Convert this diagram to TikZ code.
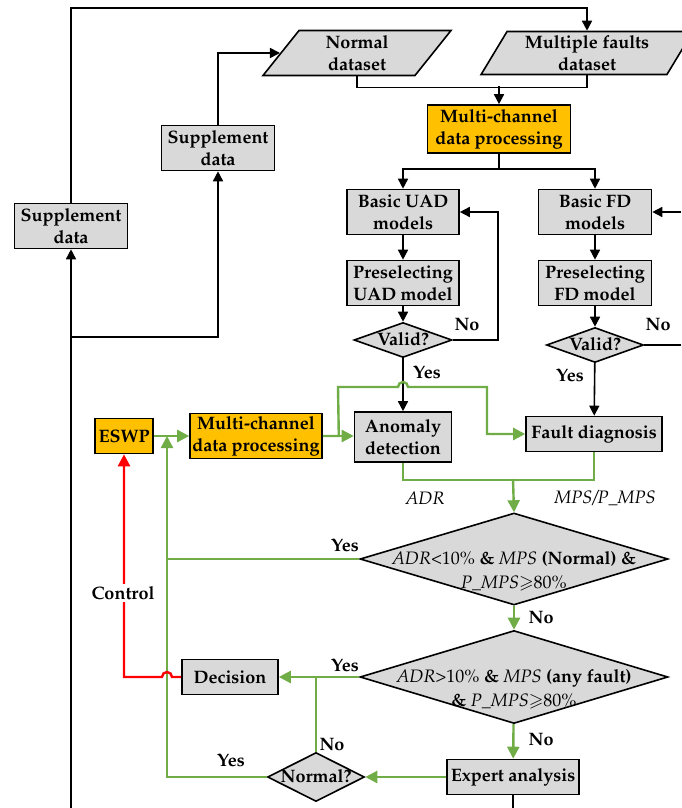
\documentclass[tikz,border=0pt]{standalone}
\usepackage[T1]{fontenc}
\usepackage{mathpazo}
\usepackage{amssymb}
\usetikzlibrary{arrows.meta,positioning,shapes.geometric}

\definecolor{boxgray}{RGB}{217,217,217}
\definecolor{procorange}{RGB}{255,192,0}
\definecolor{flowgreen}{RGB}{112,173,71}
\definecolor{ctrlred}{RGB}{255,0,0}

\newcommand{\condtext}[1]{\smash{\raisebox{-0.6ex}{\renewcommand{\arraystretch}{1.1}\begin{tabular}[t]{@{}c@{}}#1\end{tabular}}}}
\newcommand{\var}[1]{{\mdseries\itshape #1}}

\begin{document}
\begin{tikzpicture}[
    x=0.5pt, y=-0.5pt,
    box/.style={draw, line width=0.8pt, fill=boxgray, align=center, inner sep=1pt, font=\fontsize{9}{11}\selectfont\bfseries},
    proc/.style={box, fill=procorange},
    data/.style={trapezium, trapezium stretches=true, trapezium left angle=62, trapezium right angle=118, draw, line width=0.8pt, fill=boxgray, align=center, inner sep=1pt, font=\fontsize{9}{11}\selectfont\bfseries},
    cond/.style={diamond, draw, line width=0.8pt, fill=boxgray, inner sep=0pt, font=\fontsize{9}{11}\selectfont\bfseries},
    lbl/.style={font=\fontsize{9}{11}\selectfont\bfseries, inner sep=1pt},
    note/.style={font=\fontsize{9}{11}\selectfont\itshape, inner sep=1pt},
    wire/.style={line width=0.8pt},
    link/.style={wire, -{Triangle[length=5pt, width=5pt]}},
    gwire/.style={flowgreen, line width=1.2pt},
    glink/.style={gwire, -{Triangle[length=6pt, width=6pt]}},
    rlink/.style={ctrlred, line width=1.2pt, -{Triangle[length=6pt, width=6pt]}}
]
\useasboundingbox (0,0) rectangle (681,808);

\node[box, minimum width=56.5pt, minimum height=22.5pt] (sup1) at (71,226) {Supplement\\data};
\node[box, minimum width=56.5pt, minimum height=22.5pt] (sup2) at (218,148) {Supplement\\data};
\node[data, minimum width=94pt, minimum height=22.5pt] (normal) at (357,53) {Normal\\dataset};
\node[data, minimum width=106.5pt, minimum height=21.5pt] (multi) at (587,53) {Multiple faults\\dataset};
\node[proc, minimum width=71.5pt, minimum height=24pt] (mcp1) at (499,129) {Multi-channel\\data processing};
\node[box, minimum width=56pt, minimum height=22.5pt] (uadb) at (403,212) {Basic UAD\\models};
\node[box, minimum width=56.5pt, minimum height=22.5pt] (fdb) at (595,212) {Basic FD\\models};
\node[box, minimum width=56pt, minimum height=22.5pt] (uadp) at (403,283) {Preselecting\\UAD model};
\node[box, minimum width=56.5pt, minimum height=22.5pt] (fdp) at (595,283) {Preselecting\\FD model};
\node[cond, aspect=2.8, minimum width=49pt, minimum height=17.5pt] (uadv) at (403,340) {\condtext{Valid?}};
\node[cond, aspect=2.8, minimum width=48.5pt, minimum height=17.5pt] (fdv) at (595,345) {\condtext{Valid?}};
\node[box, minimum width=48.5pt, minimum height=25pt] (anom) at (403,437) {Anomaly\\detection};
\node[box, minimum width=68pt, minimum height=17.5pt] (fdiag) at (594,434) {Fault diagnosis};
\node[proc, minimum width=29pt, minimum height=17.5pt] (eswp) at (124,436) {ESWP};
\node[proc, minimum width=66pt, minimum height=22.5pt] (mcp2) at (256,436) {Multi-channel\\data processing};
\node[cond, aspect=3.35, minimum width=154pt, minimum height=46pt] (chk1) at (514,559)
  {\condtext{\var{ADR}{\mdseries<10\%} \& \var{MPS} (Normal) \&\\\var{P\_MPS}{\mdseries$\geqslant$80\%}}};
\node[cond, aspect=3.3, minimum width=154pt, minimum height=46.5pt] (chk2) at (514,677)
  {\condtext{\var{ADR}{\mdseries>10\%} \& \var{MPS} (any fault)\\\& \var{P\_MPS}{\mdseries$\geqslant$80\%}}};
\node[box, minimum width=48pt, minimum height=17.5pt] (dec) at (230,677) {Decision};
\node[cond, aspect=2, minimum width=48.5pt, minimum height=24.5pt] (norm) at (316,777) {\condtext{Normal?}};
\node[box, minimum width=66pt, minimum height=17.5pt] (expert) at (513,777) {Expert analysis};

\coordinate (lowleft) at (71,808);
\coordinate (split) at (71,337);
\coordinate (merge) at (499,86);
\coordinate (uadback) at (498,340);
\coordinate (fdout) at (681,345);
\coordinate (fdback) at (681,212);
\coordinate (gjoin) at (513,479);
\coordinate (gup) at (167,436);
\coordinate (yesjoin) at (167,559);
\coordinate (lowexp) at (513,808);

\draw[link] (sup1.north) -- (71,8) -| (multi.north);
\draw[link] (lowleft) -- (sup1.south);
\draw[link] (split) -| (sup2.south);
\draw[link] (sup2.north) |- (normal.west);
\draw[wire] (normal.south) -- ++(0,11) -| (multi.south);
\draw[link] (merge) -- (mcp1.north);
\draw[wire] (mcp1.south) -- ++(0,15) coordinate (fork);
\draw[link] (fork) -| (uadb.north);
\draw[link] (fork) -| (fdb.north);
\draw[link] (uadb) -- (uadp);
\draw[link] (uadp) -- (uadv);
\draw[link] (uadv.east) -- (uadback) |- (uadb.east);
\draw[link] (uadv) -- (anom);
\draw[link] (fdb) -- (fdp);
\draw[link] (fdp) -- (fdv);
\draw[wire] (fdv.east) -- (fdout);
\draw[link] (fdback) -- (fdb.east);
\draw[link] (fdv) -- (fdiag);
\draw[wire] (expert.south) -- (lowexp);

\draw[glink] (eswp) -- (mcp2);
\draw[glink] (mcp2.east) -- (anom.west |- mcp2.east);
\draw[glink] (mcp2.east) -- ++(16,0) -- (338,387) -- (398,387)
  arc[start angle=180, end angle=0, radius=2.5pt] -- (487,387) |- (fdiag.west);
\draw[gwire] (anom.south) -- ++(0,17) -| (fdiag.south);
\draw[glink] (gjoin) -- (chk1.north);
\draw[glink] (chk1) -- (chk2);
\draw[glink] (chk2) -- (expert);
\draw[glink] (chk2) -- (dec);
\draw[gwire] (norm.north) -- (norm.north |- dec.east);
\draw[glink] (expert) -- (norm);
\draw[glink] (norm.west) -| (gup);
\draw[gwire] (chk1.west) -- (yesjoin);

\draw[rlink] (dec.west) -- (172,677) arc[start angle=0, end angle=180, radius=2.5pt] -| (eswp.south);
\node[lbl, fill=white] (ctrl) at (123,593) {Control};

\node[lbl] (uadno) at (467,325) {No};
\node[lbl] (uadyes) at (427,372) {Yes};
\node[lbl] (fdno) at (658,325) {No};
\node[lbl] (fdyes) at (570,375) {Yes};
\node[note] (adr) at (425,498) {ADR};
\node[note] (mps) at (605,498) {MPS/P\_MPS};
\node[lbl] (chk1yes) at (345,545) {Yes};
\node[lbl] (chk1no) at (541,618) {No};
\node[lbl] (chk2yes) at (345,665) {Yes};
\node[lbl] (chk2no) at (541,740) {No};
\node[lbl] (normno) at (332,745) {No};
\node[lbl] (normyes) at (231,760) {Yes};
\end{tikzpicture}
\end{document}
